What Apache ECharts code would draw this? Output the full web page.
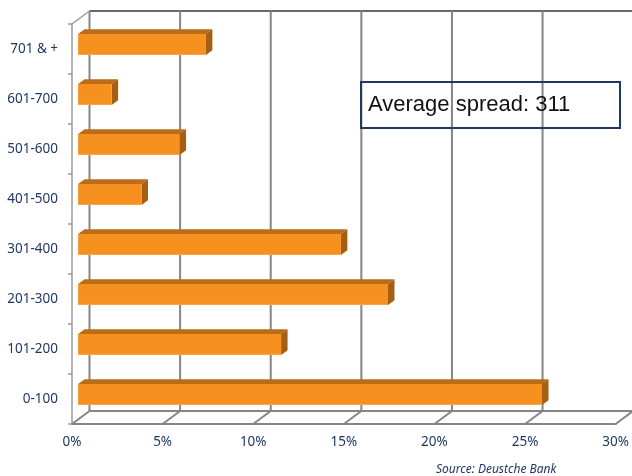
<!DOCTYPE html>
<html>
<head>
<meta charset="utf-8">
<script src="https://cdn.jsdelivr.net/npm/echarts@6/dist/echarts.min.js"></script>
<style>
html,body{margin:0;padding:0;background:#fff;}
#chart{width:632px;height:476px;}
</style>
</head>
<body>
<div id="chart"></div>
<script>
var categories = ['0-100', '101-200', '201-300', '301-400', '401-500', '501-600', '601-700', '701 & +'];
var shares = [25.6, 11.2, 17.1, 14.5, 3.5, 5.6, 1.85, 7.05];
var xTicks = [0, 5, 10, 15, 20, 25, 30];
var noteText = 'Average spread: 311';
var sourceText = 'Source: Deustche Bank';

var DEPTH = [17.5, -13];
var BAR_FRONT = 0.35, BAR_BACK = 0.72, BAR_H = 0.42;
var GRID_COLOR = '#858585';
var LABEL_COLOR = '#1F3864';

var chart = echarts.init(document.getElementById('chart'));

function frameItem(params, api) {
  var cs = params.coordSys;
  var v = api.value(0);
  var p = api.coord([v, 0]);
  var x = p[0];
  var top = cs.y, bottom = cs.y + cs.height;
  var dx = DEPTH[0], dy = DEPTH[1];
  var lineStyle = {stroke: GRID_COLOR, lineWidth: 2};
  var children = [
    {type: 'line', shape: {x1: x + dx, y1: top + dy, x2: x + dx, y2: bottom + dy}, style: lineStyle},
    {type: 'line', shape: {x1: x, y1: bottom, x2: x + dx, y2: bottom + dy}, style: lineStyle}
  ];
  if (params.dataIndex === 0) {
    var right = cs.x + cs.width + dx + 30;
    children.push(
      {type: 'line', shape: {x1: x + dx, y1: top + dy, x2: right, y2: top + dy}, style: {stroke: '#6a6a6a', lineWidth: 2}},
      {type: 'line', shape: {x1: x + dx, y1: bottom + dy, x2: right, y2: bottom + dy}, style: lineStyle},
      {type: 'line', shape: {x1: x, y1: top, x2: x + dx, y2: top + dy}, style: {stroke: '#9a9a9a', lineWidth: 1.5}}
    );
  }
  return {type: 'group', children: children};
}

function barItem(params, api) {
  var val = api.value(0);
  var cat = api.value(1);
  var p0 = api.coord([0, cat]);
  var p1 = api.coord([val, cat]);
  var band = api.size([0, 1])[1];
  var h = band * BAR_H;
  var ax = DEPTH[0] * BAR_FRONT, ay = DEPTH[1] * BAR_FRONT;
  var ddx = DEPTH[0] * (BAR_BACK - BAR_FRONT), ddy = DEPTH[1] * (BAR_BACK - BAR_FRONT);
  var xL = p0[0] + ax, xR = p1[0] + ax;
  var yT = p0[1] - h / 2 + ay, yB = p0[1] + h / 2 + ay;
  return {
    type: 'group',
    children: [
      {type: 'polygon', shape: {points: [[xL, yT], [xR, yT], [xR + ddx, yT + ddy], [xL + ddx, yT + ddy]]}, style: {fill: '#BA6C19'}},
      {type: 'polygon', shape: {points: [[xR, yT], [xR + ddx, yT + ddy], [xR + ddx, yB + ddy], [xR, yB]]}, style: {fill: '#A45F14'}},
      {type: 'rect', shape: {x: xL, y: yT, width: xR - xL, height: yB - yT}, style: {fill: '#F69120'}},
      {type: 'line', shape: {x1: xL, y1: yB - 0.5, x2: xR, y2: yB - 0.5}, style: {stroke: '#F9A64A', lineWidth: 1}}
    ]
  };
}

chart.setOption({
  animation: false,
  backgroundColor: '#ffffff',
  textStyle: {fontFamily: 'Noto Sans'},
  grid: {left: 72, right: 10, top: 24, bottom: 52, containLabel: false},
  xAxis: {
    type: 'value', min: 0, max: 30, interval: 5,
    axisLine: {show: true, lineStyle: {color: GRID_COLOR, width: 2}},
    axisTick: {show: false},
    splitLine: {show: false},
    axisLabel: {formatter: '{value}%', color: LABEL_COLOR, fontSize: 13.5, margin: 11, fontFamily: 'Noto Sans'}
  },
  yAxis: {
    type: 'category', data: categories,
    axisLine: {show: true, lineStyle: {color: '#9a9a9a', width: 1.5}},
    axisTick: {show: true, length: 4, lineStyle: {color: '#9a9a9a', width: 1.5}},
    splitLine: {show: false},
    axisLabel: {color: LABEL_COLOR, fontSize: 13.5, margin: 14, fontFamily: 'Noto Sans'}
  },
  series: [
    {type: 'custom', renderItem: frameItem, data: xTicks.map(function (t) { return [t, 0]; }), z: 1, silent: true},
    {type: 'custom', renderItem: barItem, data: shares.map(function (s, i) { return [s, i]; }), z: 2, silent: true}
  ],
  graphic: [
    {type: 'rect', left: 360, top: 81, shape: {width: 259, height: 46}, style: {fill: 'rgba(0,0,0,0)', stroke: '#1F3864', lineWidth: 2}, z: 10},
    {type: 'text', left: 368, top: 94, style: {text: noteText, font: '22px "Liberation Sans"', fill: '#111111'}, z: 11},
    {type: 'text', left: 436, top: 464, style: {text: sourceText, font: 'italic 12px "Noto Sans"', fill: LABEL_COLOR}, z: 11}
  ]
});
</script>
</body>
</html>
